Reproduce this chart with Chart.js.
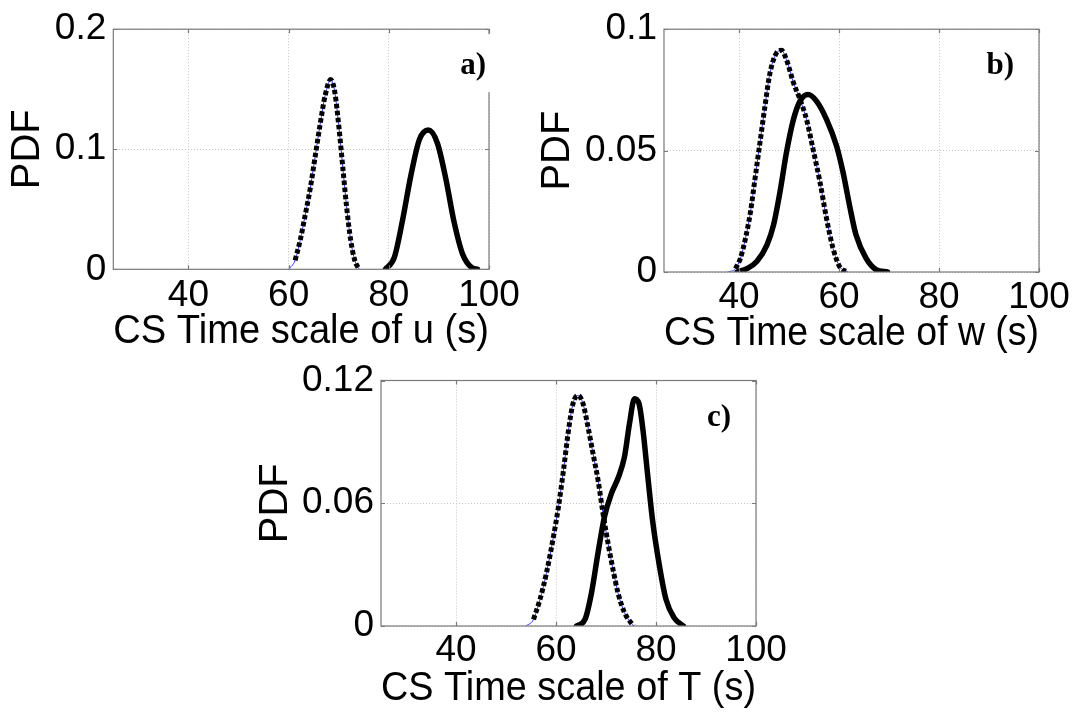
<!DOCTYPE html>
<html>
<head>
<meta charset="utf-8">
<script src="https://cdn.jsdelivr.net/npm/chart.js@4.4.0/dist/chart.umd.min.js"></script>
<style>
html,body{margin:0;padding:0;background:#fff;width:1075px;height:713px;overflow:hidden}
canvas{position:absolute;left:0;top:0}
</style>
</head>
<body>
<canvas id="ca" width="1075" height="713"></canvas>
<canvas id="cb" width="1075" height="713"></canvas>
<canvas id="cc" width="1075" height="713"></canvas>
<script>
// ---------- data ----------
const xTickValues = [40, 60, 80, 100];
const xMin = 25, xMax = 100;

const aTitle = 'CS Time scale of u (s)';
const bTitle = 'CS Time scale of w (s)';
const cTitle = 'CS Time scale of T (s)';
const yTitle = 'PDF';
const panelLabels = ['a)', 'b)', 'c)'];

const aYTicks = [0, 0.1, 0.2];
const bYTicks = [0, 0.05, 0.1];
const cYTicks = [0, 0.06, 0.12];

const aDottedX = [60, 61.3, 62.3, 63.3, 64.3, 65.3, 66.3, 67.3, 68.4, 69.2, 70.1, 70.9, 71.6, 72.4, 73.2, 74.1];
const aDottedY = [0, 0.0075, 0.024, 0.045, 0.067, 0.094, 0.121, 0.145, 0.158, 0.148, 0.116, 0.081, 0.051, 0.024, 0.0075, 0];
const aSolidX = [79.3, 81.1, 82.7, 84.4, 86.1, 87.9, 89.7, 91.4, 93.0, 94.7, 96.7, 97.7];
const aSolidY = [0, 0.010, 0.040, 0.078, 0.108, 0.116, 0.105, 0.075, 0.040, 0.013, 0.001, 0];

const bDottedX = [37.7, 39.3, 40.3, 41.3, 42.3, 43.2, 44.2, 45.2, 46.2, 47.5, 48.5, 49.5, 50.9, 52.2, 53.5, 54.8, 56.2, 57.5, 58.8, 60.1, 61.8];
const bDottedY = [0, 0.0014, 0.0057, 0.0139, 0.0248, 0.0384, 0.0534, 0.0684, 0.082, 0.0902, 0.0913, 0.0874, 0.0779, 0.0711, 0.0629, 0.0507, 0.037, 0.0221, 0.0098, 0.0023, 0];
const bSolidX = [39.6, 41.6, 43.6, 45.6, 46.9, 48.2, 49.5, 50.9, 52.2, 53.8, 55.5, 57.5, 59.5, 60.8, 62.1, 63.4, 65.4, 67.4, 69.7];
const bSolidY = [0, 0.0014, 0.0044, 0.0112, 0.0193, 0.033, 0.0493, 0.0629, 0.0704, 0.0731, 0.0704, 0.0629, 0.052, 0.0411, 0.0275, 0.0153, 0.0057, 0.001, 0];

const cDottedX = [54.0, 55.5, 56.8, 58.1, 59.5, 60.5, 61.5, 62.5, 63.4, 64.4, 65.4, 66.4, 67.4, 68.4, 69.4, 70.4, 71.4, 72.4, 73.7, 75.5];
const cDottedY = [0, 0.0032, 0.013, 0.026, 0.0438, 0.0584, 0.0762, 0.0957, 0.1087, 0.1127, 0.1087, 0.0973, 0.0843, 0.0714, 0.0551, 0.0406, 0.0276, 0.0162, 0.0065, 0];
const cSolidX = [64.1, 65.8, 67.1, 68.4, 69.7, 71.1, 72.4, 73.7, 74.7, 75.7, 76.6, 77.4, 78.3, 79.3, 80.7, 82.0, 83.6, 85.5];
const cSolidY = [0, 0.0032, 0.0162, 0.0357, 0.0535, 0.0649, 0.0722, 0.0827, 0.099, 0.1111, 0.1087, 0.0957, 0.0746, 0.0519, 0.0292, 0.013, 0.0041, 0];

// ---------- rendering ----------
const FAMILY = '"Liberation Sans", Arial, sans-serif';
const FRAME = '#7a7a7a';

function pts(xs, ys) { return xs.map((x, i) => ({x: x, y: ys[i]})); }

const framePlugin = {
  id: 'frame',
  afterDatasetsDraw(chart, args, o) {
    const ctx = chart.ctx, a = chart.chartArea, sx = chart.scales.x, sy = chart.scales.y;
    ctx.save();
    ctx.strokeStyle = FRAME;
    ctx.lineWidth = 1.2;
    ctx.beginPath();
    sx.ticks.forEach(t => {
      const p = Math.round(sx.getPixelForValue(t.value)) + 0.5;
      ctx.moveTo(p, a.bottom); ctx.lineTo(p, a.bottom - 4);
      ctx.moveTo(p, a.top); ctx.lineTo(p, a.top + 4);
    });
    sy.ticks.forEach(t => {
      const p = Math.round(sy.getPixelForValue(t.value)) + 0.5;
      ctx.moveTo(a.left, p); ctx.lineTo(a.left + 4, p);
      ctx.moveTo(a.right, p); ctx.lineTo(a.right - 4, p);
    });
    ctx.stroke();
    ctx.strokeRect(a.left, a.top, a.right - a.left, a.bottom - a.top);
    if (o.mask) {
      ctx.fillStyle = '#fff';
      ctx.fillRect(a.right - 52, a.top + 5, 55, 58);
    }
    ctx.fillStyle = '#000';
    ctx.font = 'bold 31px "Liberation Serif", "Times New Roman", serif';
    ctx.textAlign = 'right';
    ctx.textBaseline = 'alphabetic';
    ctx.fillText(o.label, a.right - o.inset, a.top + o.drop);
    ctx.restore();
  }
};

function panel(id, p) {
  return new Chart(document.getElementById(id), {
    type: 'line',
    data: {
      datasets: [
        {data: pts(p.sx, p.sy), borderColor: '#000', borderWidth: 5.5, pointRadius: 0,
         cubicInterpolationMode: 'monotone', order: 1, borderCapStyle: 'round', borderJoinStyle: 'round'},
        {data: pts(p.dx.slice(1), p.dy.slice(1)), borderColor: '#000', borderWidth: 5, borderDash: [4.5, 2.5],
         pointRadius: 0, cubicInterpolationMode: 'monotone', order: 2},
        {data: pts(p.dx, p.dy), borderColor: '#3535ff', borderWidth: 1, pointRadius: 0,
         cubicInterpolationMode: 'monotone', order: 3}
      ]
    },
    options: {
      responsive: false, animation: false, devicePixelRatio: 1,
      layout: {padding: p.pad},
      plugins: {
        legend: {display: false}, tooltip: {enabled: false},
        frame: {label: p.label, inset: p.inset, drop: p.drop, mask: p.mask}
      },
      scales: {
        x: {
          type: 'linear', min: xMin, max: xMax,
          afterBuildTicks: s => { s.ticks = xTickValues.map(v => ({value: v})); },
          afterFit: s => { s.height = p.xh; },
          grid: {color: '#c4c4c4', lineWidth: 1, drawTicks: false},
          border: {display: false, dash: [1, 2]},
          ticks: {color: '#000', font: {family: FAMILY, size: 37}, padding: p.xpad, maxRotation: 0, autoSkip: false,
                  callback: v => String(v)},
          title: {display: true, text: p.title, color: '#000', font: {family: FAMILY, size: 41, lineHeight: 1}, padding: 0}
        },
        y: {
          type: 'linear', min: p.yt[0], max: p.yt[p.yt.length - 1],
          afterBuildTicks: s => { s.ticks = p.yt.map(v => ({value: v})); },
          afterFit: s => { s.width = p.yw; },
          grid: {color: '#c4c4c4', lineWidth: 1, drawTicks: false},
          border: {display: false, dash: [1, 2]},
          ticks: {color: '#000', font: {family: FAMILY, size: 37}, padding: 7, autoSkip: false,
                  callback: v => String(v)},
          title: {display: true, text: yTitle, color: '#000', font: {family: FAMILY, size: 40, lineHeight: 1}, padding: 0}
        }
      }
    },
    plugins: [framePlugin]
  });
}

// panel a: area 113..489 x 23..269
panel('ca', {sx: aSolidX, sy: aSolidY, dx: aDottedX, dy: aDottedY, yt: aYTicks, title: aTitle,
  label: panelLabels[0], inset: 3, drop: 45, mask: true, xpad: 4,
  pad: {left: 7.5, top: 23, right: 1075 - 489, bottom: 360.5}, yw: 105.8, xh: 83.2});
// panel b: area 664..1039 x 24..272
panel('cb', {sx: bSolidX, sy: bSolidY, dx: bDottedX, dy: bDottedY, yt: bYTicks, title: bTitle,
  label: panelLabels[1], inset: 25, drop: 45, mask: false, xpad: 4,
  pad: {left: 538, top: 24, right: 1075 - 1039, bottom: 358.5}, yw: 126, xh: 82.5});
// panel c: area 381..756 x 380.5..626
panel('cc', {sx: cSolidX, sy: cSolidY, dx: cDottedX, dy: cDottedY, yt: cYTicks, title: cTitle,
  label: panelLabels[2], inset: 25, drop: 45, mask: false, xpad: 3,
  pad: {left: 255.8, top: 380.5, right: 1075 - 756, bottom: 3.5}, yw: 125.2, xh: 83.5});
</script>
</body>
</html>
